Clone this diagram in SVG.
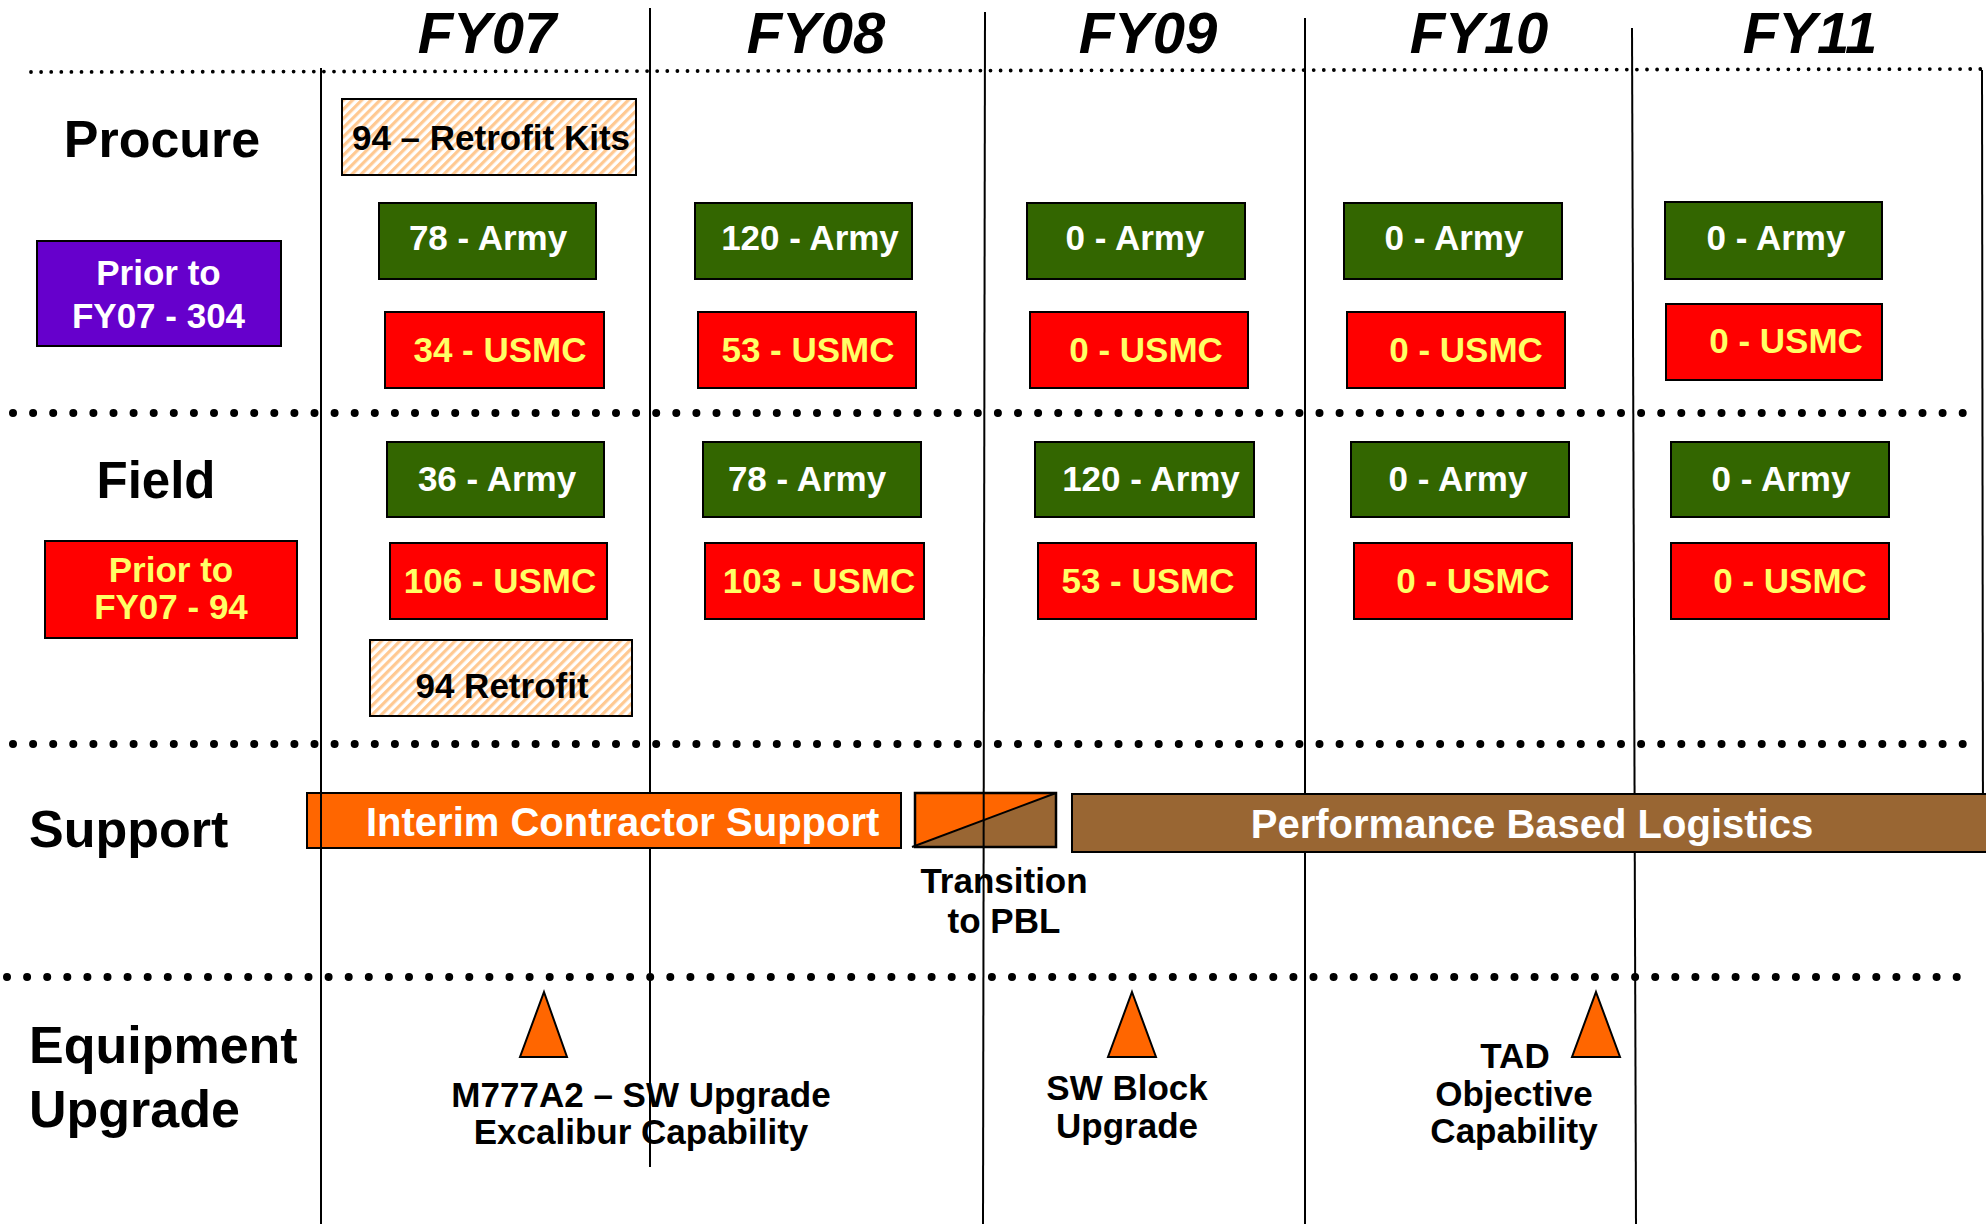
<svg xmlns="http://www.w3.org/2000/svg" width="1986" height="1224" viewBox="0 0 1986 1224">
<defs>
<pattern id="hatch" patternUnits="userSpaceOnUse" width="6.5" height="20" patternTransform="rotate(45)">
<rect x="0" y="0" width="6.5" height="20" fill="#ffffff"/>
<rect x="0" y="0" width="3.2" height="20" fill="#FFC992"/>
</pattern>
<style>
.t{font-family:"Liberation Sans",Arial,sans-serif;font-weight:bold;}
.hdr{font-size:58px;font-style:italic;text-anchor:middle;fill:#000;}
.sec{font-size:52px;fill:#000;}
.bx{font-size:35px;text-anchor:middle;}
.lbl{font-size:35px;text-anchor:middle;fill:#000;}
.bar{font-size:40px;fill:#fff;}
.army{fill:#336600;stroke:#000;stroke-width:2;}
.usmc{fill:#FF0000;stroke:#000;stroke-width:2;}
.hat{fill:url(#hatch);stroke:#000;stroke-width:2;}
.w{fill:#ffffff;}
.y{fill:#FFFF66;}
.vl{stroke:#000;stroke-width:2;fill:none;}
.dots{stroke:#000;stroke-width:8;stroke-linecap:round;stroke-dasharray:0 20.1;fill:none;}
.sdots{stroke:#000;stroke-width:3.8;stroke-linecap:round;stroke-dasharray:0 10.1;fill:none;}
.tri{fill:#FF6600;stroke:#000;stroke-width:2;}
</style>
</defs>
<rect x="0" y="0" width="1986" height="1224" fill="#ffffff"/>

<g id="grid-under">
<line class="vl" x1="650" y1="8" x2="650" y2="1167"/>
<line class="vl" x1="1305" y1="18" x2="1305" y2="1224"/>
<line class="vl" x1="1632" y1="28" x2="1636" y2="1224"/>
<line class="vl" x1="1982" y1="70" x2="1983" y2="852"/>
</g>

<g id="dotted-lines">
<line class="sdots" x1="31" y1="72" x2="1984" y2="69"/>
<line class="dots" x1="13" y1="413" x2="1976" y2="413"/>
<line class="dots" x1="13" y1="744" x2="1976" y2="744"/>
<line class="dots" x1="7" y1="977" x2="1970" y2="977"/>
</g>

<g id="headers">
<text class="t hdr" x="487" y="53">FY07</text>
<text class="t hdr" x="816" y="53">FY08</text>
<text class="t hdr" x="1148" y="53">FY09</text>
<text class="t hdr" x="1479" y="53">FY10</text>
<text class="t hdr" x="1810" y="53">FY11</text>
</g>

<g id="section-labels">
<text class="t sec" x="162" y="157" text-anchor="middle">Procure</text>
<text class="t sec" x="156" y="498" text-anchor="middle" style="font-size:51px">Field</text>
<text class="t sec" x="29" y="847">Support</text>
<text class="t sec" x="29" y="1063">Equipment</text>
<text class="t sec" x="29" y="1127">Upgrade</text>
</g>

<g id="prior-procure">
<rect x="37" y="241" width="244" height="105" fill="#6600CC" stroke="#000" stroke-width="2"/>
<text class="t bx w" x="158.5" y="285">Prior to</text>
<text class="t bx w" x="158.5" y="328">FY07 - 304</text>
</g>
<g id="prior-field">
<rect x="45" y="541" width="252" height="97" fill="#FF0000" stroke="#000" stroke-width="2"/>
<text class="t bx y" x="171" y="582">Prior to</text>
<text class="t bx y" x="171" y="619">FY07 - 94</text>
</g>

<g id="procure-retrofit">
<rect class="hat" x="342" y="99" width="294" height="76"/>
<text class="t lbl" x="491" y="150">94 – Retrofit Kits</text>
</g>
<g id="procure-fy07-army"><rect class="army" x="379" y="203" width="217" height="76"/><text class="t bx w" x="488" y="250">78 - Army</text></g>
<g id="procure-fy07-usmc"><rect class="usmc" x="385" y="312" width="219" height="76"/><text class="t bx y" x="500" y="362">34 - USMC</text></g>
<g id="procure-fy08-army"><rect class="army" x="695" y="203" width="217" height="76"/><text class="t bx w" x="810" y="250">120 - Army</text></g>
<g id="procure-fy08-usmc"><rect class="usmc" x="698" y="312" width="218" height="76"/><text class="t bx y" x="808" y="362">53 - USMC</text></g>
<g id="procure-fy09-army"><rect class="army" x="1027" y="203" width="218" height="76"/><text class="t bx w" x="1135" y="250">0 - Army</text></g>
<g id="procure-fy09-usmc"><rect class="usmc" x="1030" y="312" width="218" height="76"/><text class="t bx y" x="1146" y="362">0 - USMC</text></g>
<g id="procure-fy10-army"><rect class="army" x="1344" y="203" width="218" height="76"/><text class="t bx w" x="1454" y="250">0 - Army</text></g>
<g id="procure-fy10-usmc"><rect class="usmc" x="1347" y="312" width="218" height="76"/><text class="t bx y" x="1466" y="362">0 - USMC</text></g>
<g id="procure-fy11-army"><rect class="army" x="1665" y="202" width="217" height="77"/><text class="t bx w" x="1776" y="250">0 - Army</text></g>
<g id="procure-fy11-usmc"><rect class="usmc" x="1666" y="304" width="216" height="76"/><text class="t bx y" x="1786" y="353">0 - USMC</text></g>

<g id="field-fy07-army"><rect class="army" x="387" y="442" width="217" height="75"/><text class="t bx w" x="497" y="491">36 - Army</text></g>
<g id="field-fy07-usmc"><rect class="usmc" x="390" y="543" width="217" height="76"/><text class="t bx y" x="500" y="593">106 - USMC</text></g>
<g id="field-retrofit"><rect class="hat" x="370" y="640" width="262" height="76"/><text class="t lbl" x="502" y="698">94 Retrofit</text></g>
<g id="field-fy08-army"><rect class="army" x="703" y="442" width="218" height="75"/><text class="t bx w" x="807" y="491">78 - Army</text></g>
<g id="field-fy08-usmc"><rect class="usmc" x="705" y="543" width="219" height="76"/><text class="t bx y" x="819" y="593">103 - USMC</text></g>
<g id="field-fy09-army"><rect class="army" x="1035" y="442" width="219" height="75"/><text class="t bx w" x="1151" y="491">120 - Army</text></g>
<g id="field-fy09-usmc"><rect class="usmc" x="1038" y="543" width="218" height="76"/><text class="t bx y" x="1148" y="593">53 - USMC</text></g>
<g id="field-fy10-army"><rect class="army" x="1351" y="442" width="218" height="75"/><text class="t bx w" x="1458" y="491">0 - Army</text></g>
<g id="field-fy10-usmc"><rect class="usmc" x="1354" y="543" width="218" height="76"/><text class="t bx y" x="1473" y="593">0 - USMC</text></g>
<g id="field-fy11-army"><rect class="army" x="1671" y="442" width="218" height="75"/><text class="t bx w" x="1781" y="491">0 - Army</text></g>
<g id="field-fy11-usmc"><rect class="usmc" x="1671" y="543" width="218" height="76"/><text class="t bx y" x="1790" y="593">0 - USMC</text></g>

<g id="ics-bar">
<rect x="307" y="793" width="594" height="55" fill="#FF6600" stroke="#000" stroke-width="2"/>
<text class="t bar" x="366" y="836">Interim Contractor Support</text>
</g>
<g id="transition">
<rect x="915" y="793" width="141" height="54" fill="#996633"/>
<polygon points="915,793 1056,793 915,847" fill="#FF6600"/>
<rect x="915" y="793" width="141" height="54" fill="none" stroke="#000" stroke-width="2.5"/>
<line x1="912" y1="847" x2="1056" y2="793" stroke="#000" stroke-width="2"/>
<text class="t lbl" x="1004" y="893">Transition</text>
<text class="t lbl" x="1004" y="933">to PBL</text>
</g>
<g id="pbl-bar">
<rect x="1072" y="794" width="930" height="58" fill="#996633" stroke="#000" stroke-width="2"/>
<text class="t bar" x="1532" y="838" text-anchor="middle">Performance Based Logistics</text>
</g>

<g id="grid-over">
<line class="vl" x1="321" y1="68" x2="321" y2="1224"/>
<line class="vl" x1="985" y1="12" x2="983" y2="1224"/>
</g>

<g id="milestone-m777">
<polygon class="tri" points="544,992 567,1057 520,1057"/>
<text class="t lbl" x="641" y="1107">M777A2 – SW Upgrade</text>
<text class="t lbl" x="641" y="1144">Excalibur Capability</text>
</g>
<g id="milestone-swblock">
<polygon class="tri" points="1132,992 1156,1057 1108,1057"/>
<text class="t lbl" x="1127" y="1100">SW Block</text>
<text class="t lbl" x="1127" y="1138">Upgrade</text>
</g>
<g id="milestone-tad">
<polygon class="tri" points="1596,992 1620,1057 1572,1057"/>
<text class="t lbl" x="1515" y="1068">TAD</text>
<text class="t lbl" x="1514" y="1106">Objective</text>
<text class="t lbl" x="1514" y="1143">Capability</text>
</g>
</svg>
